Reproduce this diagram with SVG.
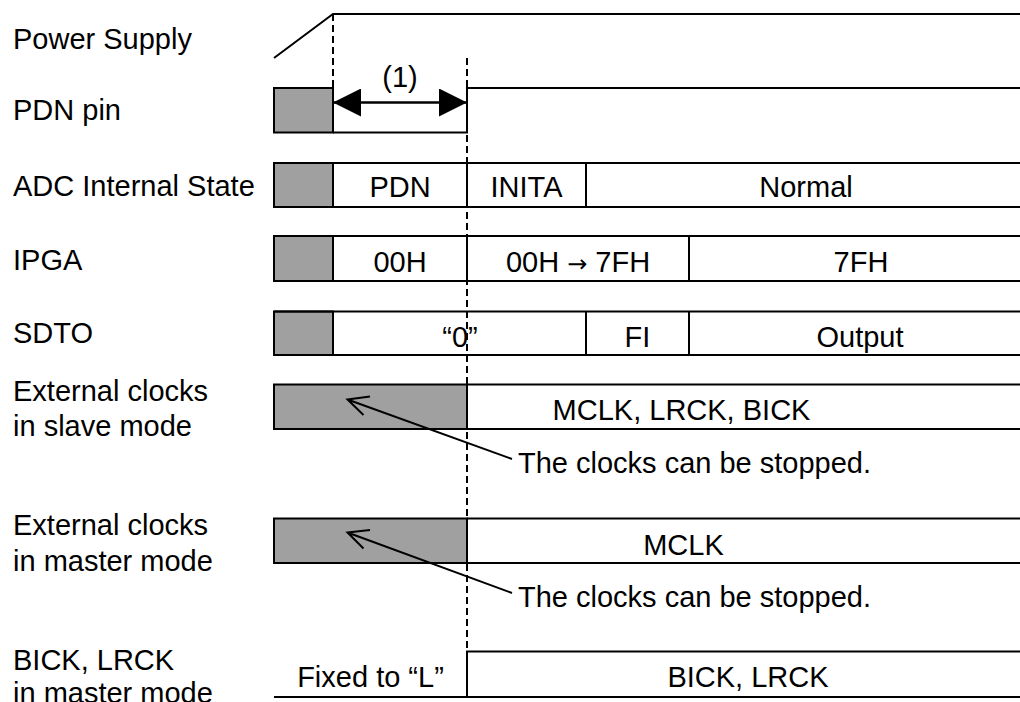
<svg xmlns="http://www.w3.org/2000/svg" width="1020" height="702" viewBox="0 0 1020 702">
<style>
text{font-family:"Liberation Sans",Arial,sans-serif;font-size:29px;fill:#000}
.c{text-anchor:middle}
.ln{stroke:#000;stroke-width:2;fill:none}
.g{fill:#a0a0a0;stroke:#000;stroke-width:2}
.d{stroke:#000;stroke-width:2;stroke-dasharray:7 4;fill:none}
.ar{font-family:"DejaVu Sans",sans-serif;font-size:24px}
</style>
<defs>
<marker id="tri" viewBox="0 0 28 28" refX="28" refY="14" markerWidth="28" markerHeight="28" markerUnits="userSpaceOnUse" orient="auto-start-reverse">
<path d="M0,0 L28,14 L0,28 Z" fill="#000"/>
</marker>
</defs>
<rect width="1020" height="702" fill="#fff"/>
<g id="labels">
<text x="13" y="49">Power Supply</text>
<text x="13" y="120">PDN pin</text>
<text x="13" y="196">ADC Internal State</text>
<text x="13" y="270">IPGA</text>
<text x="13" y="343">SDTO</text>
<text x="13" y="401">External clocks</text>
<text x="13" y="436">in slave mode</text>
<text x="13" y="535">External clocks</text>
<text x="13" y="571">in master mode</text>
<text x="13" y="670">BICK, LRCK</text>
<text x="13" y="703">in master mode</text>
</g>
<g id="power">
<path class="ln" d="M274,58 L333,14 L1020,14"/>
</g>
<g id="pdn">
<rect class="g" x="274" y="88" width="59" height="44.5"/>
<path class="ln" d="M333,132.5 L467,132.5 L467,88 L1020,88"/>
</g>
<g id="adc">
<rect class="g" x="274" y="163" width="59" height="44"/>
<path class="ln" d="M274,163 L1020,163 M274,207 L1020,207 M467,163 V207 M586,163 V207"/>
<text class="c" x="400" y="197">PDN</text>
<text class="c" x="526.5" y="197">INITA</text>
<text class="c" x="806" y="197">Normal</text>
</g>
<g id="ipga">
<rect class="g" x="274" y="236" width="59" height="45"/>
<path class="ln" d="M274,236 L1020,236 M274,281 L1020,281 M467,236 V281 M689,236 V281"/>
<text class="c" x="400" y="272">00H</text>
<text class="c" x="578" y="272">00H <tspan class="ar">→</tspan> 7FH</text>
<text class="c" x="861" y="272">7FH</text>
</g>
<g id="sdto">
<rect class="g" x="274" y="311.5" width="59" height="43.5"/>
<path class="ln" d="M274,311.5 L1020,311.5 M274,355 L1020,355 M586,311.5 V355 M689,311.5 V355"/>
<text class="c" x="460" y="347">“0”</text>
<text class="c" x="637.5" y="347">FI</text>
<text class="c" x="860" y="347">Output</text>
</g>
<g id="slave">
<rect class="g" x="274" y="384.5" width="193" height="44.5"/>
<path class="ln" d="M467,384.5 L1020,384.5 M467,429 L1020,429"/>
<text class="c" x="681.5" y="420">MCLK, LRCK, BICK</text>
</g>
<g id="master">
<rect class="g" x="274" y="518.5" width="193" height="44.5"/>
<path class="ln" d="M467,518.5 L1020,518.5 M467,563 L1020,563"/>
<text class="c" x="683.5" y="555">MCLK</text>
</g>
<g id="bick">
<path class="ln" d="M274,697 L1020,697 M467,697 V651.5 L1020,651.5"/>
<text class="c" x="370.5" y="687">Fixed to “L”</text>
<text class="c" x="748" y="687">BICK, LRCK</text>
</g>
<g id="connectors">
<path class="d" d="M333,14 V88"/>
<path class="d" d="M467,58 V697"/>
<line x1="333" y1="102.5" x2="467" y2="102.5" stroke="#000" stroke-width="2.5" marker-start="url(#tri)" marker-end="url(#tri)"/>
<path class="ln" d="M512,459 L347.5,399.5 M370,396.5 L347.5,399.5 L363.5,415"/>
<path class="ln" d="M512,593 L347.5,532.5 M370,530 L347.5,532.5 L363.5,548.5"/>
</g>
<g id="notes">
<text class="c" x="400" y="87">(1)</text>
<text x="518" y="473">The clocks can be stopped.</text>
<text x="518" y="607">The clocks can be stopped.</text>
</g>
</svg>
